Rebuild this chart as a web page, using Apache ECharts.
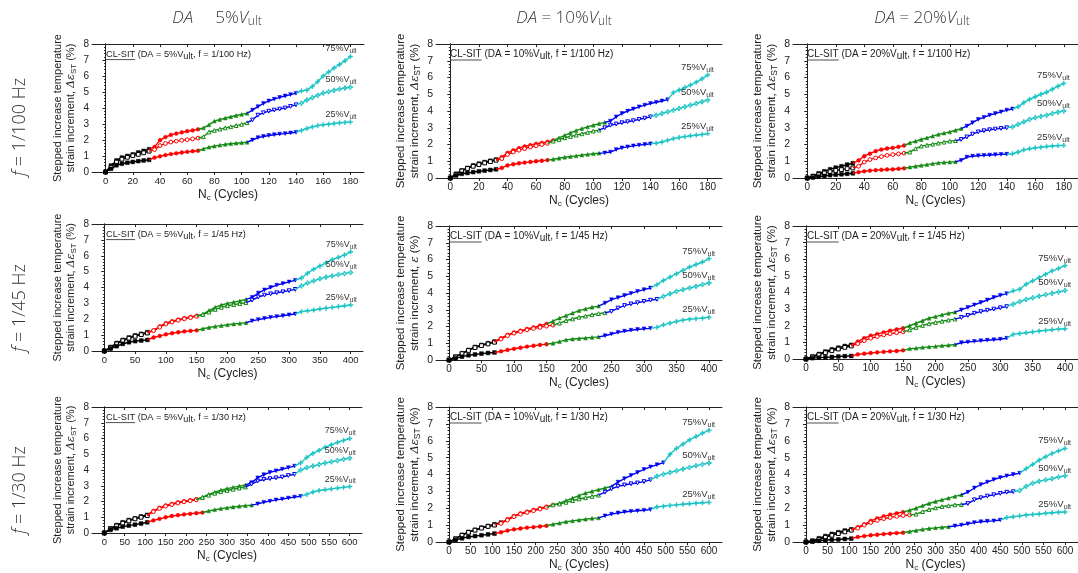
<!DOCTYPE html>
<html><head><meta charset="utf-8">
<script src="https://cdn.jsdelivr.net/npm/echarts@6/dist/echarts.min.js"></script>
<style>html,body{margin:0;padding:0;background:#fff}#c{width:1078px;height:573px}</style>
</head><body><div id="c"></div><script>
// ---------- DATA ----------
const X180 = [0,4,8,12,16,20,24,28,32,36,40,44,48,52,56,60,64,68,72,76,80,84,88,92,96,100,104,108,112,116,120,124,128,132,136,140,144,148,152,156,160,164,168,172,176,180];
const X400 = [0,10,20,30,40,50,60,70,80,90,100,110,120,130,140,150,160,170,180,190,200,210,220,230,240,250,260,270,280,290,300,310,320,330,340,350,360,370,380,390,400];
const X600 = [0,15,30,45,60,75,90,105,120,135,150,165,180,195,210,225,240,255,270,285,300,315,330,345,360,375,390,405,420,435,450,465,480,495,510,525,540,555,570,585,600];
const TICKS_180 = [0,20,40,60,80,100,120,140,160,180];
const TICKS_400 = [0,50,100,150,200,250,300,350,400];
const TICKS_600 = [0,50,100,150,200,250,300,350,400,450,500,550,600];

const DA_LEVELS = ['5%', '10%', '20%'];
const FREQS = ['1/100', '1/45', '1/30'];
const LOAD_LEVELS = ['75%', '50%', '25%'];

// stage start cycles (stage 2..5); default for each frequency
const STAGES_180 = [36,72,108,144];
const STAGES_400 = [80,160,240,320];
const STAGES_600 = [120,240,360,480];

// DA = 5%, f = 1/100 Hz
const P1_75 = [0,0.4,0.72,0.9,1.0,1.1,1.22,1.32,1.42,1.57,1.99,2.18,2.32,2.4,2.48,2.55,2.6,2.67,2.76,2.95,3.18,3.28,3.37,3.45,3.53,3.6,3.67,3.87,4.08,4.28,4.44,4.55,4.66,4.75,4.84,4.92,5.07,5.12,5.35,5.65,6.0,6.25,6.5,6.72,6.95,7.22];
const P1_50 = [0,0.3,0.62,0.8,0.92,1.02,1.1,1.2,1.3,1.4,1.65,1.78,1.87,1.93,1.98,2.02,2.07,2.12,2.2,2.5,2.6,2.68,2.76,2.83,2.9,2.98,3.08,3.25,3.55,3.7,3.8,3.87,3.93,4.0,4.1,4.2,4.3,4.5,4.65,4.8,4.93,5.02,5.1,5.18,5.25,5.3];
const P1_25 = [0,0.2,0.42,0.52,0.58,0.63,0.68,0.72,0.76,0.9,0.98,1.06,1.12,1.17,1.22,1.26,1.3,1.33,1.45,1.55,1.62,1.68,1.73,1.77,1.8,1.83,1.86,2.0,2.15,2.22,2.28,2.33,2.37,2.4,2.44,2.48,2.6,2.72,2.82,2.9,2.95,2.99,3.03,3.07,3.1,3.13];
// DA = 10%, f = 1/100 Hz
const P2_75 = [0,0.25,0.45,0.6,0.75,0.86,0.95,1.03,1.1,1.25,1.5,1.65,1.78,1.88,1.96,2.04,2.1,2.16,2.25,2.4,2.55,2.7,2.83,2.95,3.05,3.15,3.25,3.32,3.4,3.65,3.85,4.0,4.12,4.25,4.35,4.45,4.52,4.6,4.68,5.1,5.25,5.4,5.55,5.72,5.92,6.15];
const P2_75_STAGES = [36,76,112,156];
const P2_50 = [0,0.22,0.42,0.57,0.7,0.8,0.9,0.98,1.06,1.15,1.4,1.55,1.66,1.75,1.85,1.92,2.0,2.07,2.2,2.3,2.4,2.48,2.56,2.64,2.72,2.8,2.86,3.0,3.15,3.22,3.3,3.36,3.42,3.5,3.57,3.65,3.75,3.85,3.95,4.05,4.15,4.25,4.35,4.45,4.55,4.65];
const P2_25 = [0,0.15,0.25,0.3,0.35,0.4,0.44,0.48,0.52,0.6,0.75,0.82,0.88,0.92,0.96,1.0,1.03,1.07,1.12,1.18,1.24,1.28,1.32,1.37,1.41,1.45,1.48,1.5,1.55,1.7,1.8,1.86,1.92,1.96,2.0,2.04,2.08,2.15,2.25,2.35,2.42,2.47,2.52,2.56,2.6,2.65];
// DA = 20%, f = 1/100 Hz
const P3_75 = [0,0.12,0.28,0.4,0.52,0.62,0.7,0.8,0.88,1.05,1.3,1.45,1.6,1.7,1.76,1.8,1.86,1.94,2.1,2.2,2.3,2.4,2.5,2.6,2.68,2.75,2.85,2.95,3.1,3.3,3.5,3.62,3.75,3.85,3.95,4.05,4.12,4.25,4.5,4.7,4.85,5.0,5.12,5.3,5.48,5.65];
const P3_75_STAGES = [36,72,112,148];
const P3_50 = [0,0.1,0.2,0.3,0.38,0.45,0.5,0.56,0.6,0.7,0.95,1.1,1.2,1.28,1.35,1.4,1.44,1.48,1.55,1.75,1.9,1.96,2.02,2.08,2.14,2.2,2.23,2.3,2.45,2.62,2.75,2.82,2.88,2.92,2.96,3.0,3.05,3.2,3.35,3.5,3.6,3.68,3.75,3.85,3.93,4.0];
const P3_25 = [0,0.03,0.08,0.12,0.17,0.2,0.22,0.25,0.28,0.35,0.4,0.44,0.47,0.49,0.51,0.52,0.55,0.58,0.65,0.7,0.75,0.8,0.86,0.9,0.93,0.95,0.97,1.05,1.25,1.3,1.33,1.35,1.37,1.39,1.41,1.42,1.45,1.55,1.68,1.75,1.8,1.84,1.88,1.91,1.93,1.95];
// DA = 5%, f = 1/45 Hz
const P4_75 = [0,0.25,0.5,0.7,0.85,0.98,1.08,1.18,1.3,1.55,1.75,1.88,1.98,2.07,2.15,2.22,2.32,2.55,2.75,2.9,3.0,3.08,3.15,3.25,3.38,3.65,3.85,4.0,4.15,4.25,4.35,4.45,4.6,4.9,5.15,5.35,5.55,5.75,5.9,6.05,6.25];
const P4_50 = [0,0.2,0.45,0.65,0.8,0.93,1.03,1.13,1.28,1.5,1.7,1.82,1.93,2.02,2.1,2.18,2.3,2.45,2.62,2.75,2.85,2.92,2.98,3.05,3.2,3.4,3.52,3.6,3.67,3.73,3.8,3.88,4.1,4.28,4.42,4.55,4.65,4.73,4.81,4.88,4.95];
const P4_25 = [0,0.15,0.3,0.45,0.55,0.62,0.66,0.7,0.85,0.95,1.05,1.12,1.18,1.23,1.27,1.3,1.4,1.48,1.55,1.6,1.65,1.7,1.74,1.78,1.9,1.98,2.05,2.12,2.17,2.22,2.28,2.33,2.48,2.53,2.58,2.65,2.7,2.75,2.8,2.85,2.9];
// DA = 10%, f = 1/45 Hz
const P5_75 = [0,0.2,0.4,0.6,0.78,0.9,1.0,1.1,1.3,1.5,1.65,1.75,1.85,1.95,2.05,2.15,2.32,2.5,2.65,2.8,2.95,3.05,3.15,3.22,3.4,3.6,3.72,3.85,3.98,4.1,4.2,4.3,4.5,4.75,4.95,5.15,5.35,5.55,5.7,5.85,6.05];
const P5_50 = [0,0.18,0.38,0.57,0.74,0.86,0.96,1.06,1.25,1.45,1.6,1.7,1.8,1.88,1.95,2.02,2.08,2.2,2.35,2.45,2.55,2.62,2.7,2.77,2.82,2.9,3.1,3.25,3.35,3.42,3.5,3.57,3.62,3.8,3.95,4.1,4.2,4.3,4.4,4.5,4.6];
const P5_50_STAGES = [80,170,250,330];
const P5_25 = [0,0.1,0.2,0.28,0.33,0.38,0.42,0.45,0.52,0.6,0.67,0.73,0.8,0.85,0.9,0.94,1.0,1.1,1.2,1.25,1.28,1.31,1.35,1.38,1.45,1.55,1.65,1.72,1.78,1.82,1.86,1.89,1.95,2.1,2.2,2.3,2.38,2.43,2.47,2.5,2.55];
// DA = 20%, f = 1/45 Hz
const P6_75 = [0,0.15,0.3,0.45,0.58,0.68,0.78,0.85,1.05,1.25,1.4,1.5,1.6,1.7,1.78,1.85,2.0,2.15,2.3,2.45,2.55,2.65,2.75,2.82,2.95,3.1,3.25,3.4,3.55,3.7,3.83,3.93,4.1,4.2,4.5,4.7,4.9,5.1,5.3,5.45,5.62];
const P6_50 = [0,0.12,0.25,0.38,0.5,0.6,0.7,0.78,0.92,1.1,1.25,1.35,1.45,1.52,1.58,1.63,1.75,1.9,2.02,2.12,2.2,2.27,2.34,2.4,2.5,2.62,2.75,2.85,2.93,3.0,3.08,3.15,3.3,3.45,3.58,3.68,3.78,3.87,3.95,4.03,4.12];
const P6_25 = [0,0.05,0.08,0.1,0.12,0.15,0.17,0.18,0.28,0.32,0.36,0.4,0.43,0.46,0.48,0.52,0.62,0.65,0.7,0.73,0.76,0.8,0.83,0.87,0.98,1.02,1.06,1.1,1.13,1.16,1.19,1.25,1.48,1.53,1.58,1.63,1.68,1.72,1.76,1.8,1.82];
// DA = 5%, f = 1/30 Hz
const P7_75 = [0,0.3,0.5,0.68,0.82,0.93,1.05,1.15,1.4,1.6,1.75,1.85,1.95,2.02,2.08,2.15,2.28,2.45,2.6,2.72,2.82,2.9,2.98,3.05,3.2,3.5,3.7,3.85,3.95,4.05,4.15,4.25,4.45,4.8,5.05,5.25,5.45,5.6,5.75,5.88,6.0];
const P7_50 = [0,0.25,0.45,0.62,0.77,0.9,1.0,1.1,1.35,1.55,1.7,1.8,1.9,1.98,2.04,2.1,2.25,2.4,2.52,2.62,2.7,2.78,2.85,2.92,3.1,3.3,3.4,3.45,3.5,3.55,3.65,3.72,4.0,4.15,4.25,4.35,4.45,4.52,4.6,4.68,4.75];
const P7_25 = [0,0.2,0.3,0.4,0.47,0.53,0.6,0.68,0.8,0.9,1.0,1.08,1.13,1.18,1.22,1.26,1.3,1.4,1.48,1.55,1.6,1.65,1.7,1.74,1.77,1.85,1.95,2.02,2.1,2.15,2.22,2.28,2.33,2.45,2.6,2.7,2.75,2.8,2.85,2.9,2.95];
const P7_25_STAGES = [120,255,375,495];
// DA = 10%, f = 1/30 Hz
const P8_75 = [0,0.2,0.42,0.6,0.72,0.85,0.95,1.05,1.15,1.35,1.55,1.7,1.8,1.9,2.0,2.1,2.2,2.3,2.45,2.6,2.75,2.9,3.0,3.1,3.2,3.3,3.55,3.75,3.95,4.12,4.3,4.45,4.58,4.7,5.2,5.55,5.8,6.05,6.25,6.45,6.62];
const P8_75_STAGES = [135,255,390,510];
const P8_50 = [0,0.18,0.4,0.57,0.7,0.82,0.92,1.0,1.1,1.3,1.5,1.65,1.75,1.85,1.95,2.05,2.2,2.25,2.35,2.45,2.55,2.62,2.7,2.78,2.95,3.15,3.3,3.38,3.45,3.5,3.58,3.68,3.9,4.02,4.12,4.22,4.32,4.42,4.52,4.6,4.68];
const P8_25 = [0,0.12,0.22,0.3,0.35,0.4,0.45,0.5,0.58,0.68,0.75,0.8,0.85,0.88,0.92,0.96,1.05,1.12,1.2,1.25,1.3,1.35,1.4,1.43,1.55,1.65,1.72,1.78,1.82,1.85,1.88,1.92,2.08,2.12,2.17,2.2,2.24,2.27,2.3,2.33,2.35];
// DA = 20%, f = 1/30 Hz
const P9_75 = [0,0.08,0.22,0.35,0.48,0.58,0.68,0.75,0.88,1.05,1.25,1.4,1.52,1.62,1.7,1.77,1.88,2.0,2.15,2.28,2.4,2.5,2.6,2.7,2.8,2.95,3.2,3.4,3.55,3.7,3.82,3.92,4.0,4.08,4.35,4.6,4.85,5.05,5.25,5.4,5.55];
const P9_75_STAGES = [120,240,375,510];
const P9_50 = [0,0.05,0.15,0.28,0.4,0.5,0.6,0.7,0.82,1.0,1.15,1.28,1.38,1.45,1.52,1.57,1.6,1.65,1.8,1.92,2.02,2.1,2.15,2.2,2.22,2.28,2.5,2.62,2.72,2.8,2.88,2.95,2.98,3.05,3.3,3.48,3.6,3.68,3.75,3.85,3.92];
const P9_50_STAGES = [120,255,375,495];
const P9_25 = [0,0.03,0.07,0.1,0.13,0.15,0.18,0.2,0.3,0.35,0.4,0.43,0.47,0.5,0.53,0.55,0.62,0.68,0.75,0.8,0.84,0.87,0.9,0.95,1.0,1.08,1.15,1.2,1.23,1.25,1.3,1.45,1.5,1.55,1.6,1.63,1.66,1.7,1.73,1.76,1.78];
const P9_25_STAGES = [120,240,345,465];

// ---------- PANEL ASSEMBLY ----------
const PANELS = [
  {da:0, f:0, x:X180, ticks:TICKS_180, min:-10, max:190, curves:[[P1_75,STAGES_180],[P1_50,STAGES_180],[P1_25,STAGES_180]]},
  {da:1, f:0, x:X180, ticks:TICKS_180, min:-10, max:190, curves:[[P2_75,P2_75_STAGES],[P2_50,STAGES_180],[P2_25,STAGES_180]]},
  {da:2, f:0, x:X180, ticks:TICKS_180, min:-10, max:190, curves:[[P3_75,P3_75_STAGES],[P3_50,STAGES_180],[P3_25,STAGES_180]]},
  {da:0, f:1, x:X400, ticks:TICKS_400, min:-20, max:420, curves:[[P4_75,STAGES_400],[P4_50,STAGES_400],[P4_25,STAGES_400]]},
  {da:1, f:1, x:X400, ticks:TICKS_400, min:-20, max:420, curves:[[P5_75,STAGES_400],[P5_50,P5_50_STAGES],[P5_25,STAGES_400]], eps:true},
  {da:2, f:1, x:X400, ticks:TICKS_400, min:-20, max:420, curves:[[P6_75,STAGES_400],[P6_50,STAGES_400],[P6_25,STAGES_400]]},
  {da:0, f:2, x:X600, ticks:TICKS_600, min:-30, max:630, curves:[[P7_75,STAGES_600],[P7_50,STAGES_600],[P7_25,P7_25_STAGES]]},
  {da:1, f:2, x:X600, ticks:TICKS_600, min:-30, max:630, curves:[[P8_75,P8_75_STAGES],[P8_50,STAGES_600],[P8_25,STAGES_600]]},
  {da:2, f:2, x:X600, ticks:TICKS_600, min:-30, max:630, curves:[[P9_75,P9_75_STAGES],[P9_50,P9_50_STAGES],[P9_25,P9_25_STAGES]]}
];

// ---------- LAYOUT / STYLE ----------
const GRIDS = [
  {left:92, top:44, width:272, height:128},
  {left:436, top:44, width:286, height:134},
  {left:793, top:44, width:287, height:134},
  {left:92, top:224, width:271, height:127},
  {left:436, top:226, width:286, height:134},
  {left:793, top:226, width:287, height:133},
  {left:92, top:407, width:270, height:126},
  {left:436, top:407, width:286, height:135},
  {left:793, top:407, width:287, height:135}
];
const STAGE_COLORS = ['#000000','#ff0000','#168a16','#0000f0','#1cc4c4'];
const STAGE_SYMBOLS = ['rect','circle','triangle','path://M0,0 L10,0 L5,9 Z','path://M4,0h2v4h4v2h-4v4h-2v-4h-4v-2h4z'];
const FONT = "'Liberation Sans', Arial, sans-serif";
const AX = '#222';

function stageOf(x, b) { let s = 0; for (const v of b) if (x >= v) s++; return s; }

const grid = [], xAxis = [], yAxis = [], series = [], graphic = [];
PANELS.forEach((p, g) => {
  const col = g % 3;
  const small = col === 0;
  const fs = small ? 9.5 : 10;
  grid.push(Object.assign({containLabel:false}, GRIDS[g]));
  const nameFs = small ? 11 : 11.5;
  xAxis.push({
    type:'value', gridIndex:g, min:p.min, max:p.max, position:'bottom',
    splitLine:{show:false},
    axisLine:{show:true, onZero:false, lineStyle:{color:AX, width:1}},
    axisTick:{show:true, length:3, customValues:p.ticks, lineStyle:{color:AX}},
    axisLabel:{customValues:p.ticks, fontSize:fs, color:'#222', fontFamily:FONT, margin:4},
    name:'{n|N}{s|c}{n| (Cycles)}', nameLocation:'middle', nameGap:15,
    nameTextStyle:{rich:{n:{fontSize:12, fontFamily:FONT, color:'#222'}, s:{fontSize:8, fontFamily:FONT, color:'#222', padding:[7,0,0,0]}}}
  });
  xAxis.push({
    type:'value', gridIndex:g, min:p.min, max:p.max, position:'top',
    splitLine:{show:false},
    axisLine:{show:true, onZero:false, lineStyle:{color:AX, width:1}},
    axisTick:{show:true, inside:true, length:3, customValues:p.ticks, lineStyle:{color:AX}},
    axisLabel:{show:false}
  });
  const yname = p.eps
    ? '{n|Stepped increase temperature}\n{n|strain increment, }{m|ε}{n| (%)}'
    : '{n|Stepped increase temperature}\n{n|strain increment, }{m|Δε}{s|ST}{n| (%)}';
  yAxis.push({
    type:'value', gridIndex:g, min:0, max:8, interval:1, position:'left',
    splitLine:{show:false},
    axisLine:{show:true, lineStyle:{color:AX, width:1}},
    axisTick:{show:true, length:2, lineStyle:{color:AX}},
    axisLabel:{fontSize:fs+0.5, color:'#222', fontFamily:FONT, margin:3},
    name:yname, nameLocation:'middle', nameRotate:90, nameGap:14,
    nameTextStyle:{lineHeight:nameFs+2.5, rich:{
      n:{fontSize:nameFs, fontFamily:FONT, color:'#222', lineHeight:nameFs+2.5},
      m:{fontSize:nameFs, fontFamily:"'DejaVu Serif', serif", fontStyle:'italic', color:'#222', lineHeight:nameFs+2.5},
      s:{fontSize:nameFs-3, fontFamily:FONT, color:'#222', padding:[5,0,0,0], lineHeight:nameFs+2.5}}}
  });
  yAxis.push({
    type:'value', gridIndex:g, min:0, max:8, interval:1, position:'right',
    splitLine:{show:false},
    axisLine:{show:true, lineStyle:{color:AX, width:1}},
    axisTick:{show:true, inside:true, length:3, lineStyle:{color:AX}},
    minorTick:{show:true, splitNumber:5, length:1.5, lineStyle:{color:AX}},
    axisLabel:{show:false}
  });
  const xi = g * 2, yi = g * 2;
  p.curves.forEach(([ys, b], ci) => {
    const hollow = ci === 1;
    for (let s = 0; s < 5; s++) {
      const data = [];
      for (let i = 0; i < p.x.length; i++) {
        if (stageOf(p.x[i], b) !== s) continue;
        if (i > 0 && stageOf(p.x[i-1], b) !== s && data.length === 0) {
          data.push({value:[p.x[i-1], ys[i-1]], symbol:'none'});
        }
        const item = {value:[p.x[i], ys[i]]};
        if (i === p.x.length - 1) {
          item.label = {show:true, position:'top', align:'right', distance:0, offset:[6,1],
            formatter:'{n|' + LOAD_LEVELS[ci] + 'V}{s|ult}',
            rich:{n:{fontSize:small?9:9.5, fontFamily:FONT, color:'#333'},
                  s:{fontSize:small?6.5:7, fontFamily:FONT, color:'#333', padding:[5,0,0,0]}}};
        }
        data.push(item);
      }
      if (!data.length) continue;
      const c = STAGE_COLORS[s];
      series.push({
        type:'line', xAxisIndex:xi, yAxisIndex:yi, data, animation:false,
        symbol:STAGE_SYMBOLS[s], symbolSize: s === 4 ? 4.5 : 3.8, showAllSymbol:true,
        lineStyle:{color:c, width:1.4},
        itemStyle: hollow ? {color:'#fff', borderColor:c, borderWidth:1} : {color:c, borderColor:c, borderWidth:0.5},
        emphasis:{disabled:true}, z: 2 + s, clip:false
      });
    }
  });
  // in-panel annotation
  const gl = GRIDS[g];
  const afs = small ? 9.2 : 10;
  const ax = gl.left + 14, ay = gl.top + 10;
  graphic.push({type:'text', x:ax, y:ay, style:{
    text:'{u|CL-SIT}{n| (DA = ' + DA_LEVELS[p.da] + 'V}{s|ult}{n|, f = ' + FREQS[p.f] + ' Hz)}',
    verticalAlign:'middle',
    rich:{u:{fontSize:afs, fontFamily:FONT, fill:'#222'}, n:{fontSize:afs, fontFamily:FONT, fill:'#222'},
          s:{fontSize:afs, fontFamily:FONT, fill:'#222', padding:[4,0,0,0]}}}});
  const ctx = document.createElement('canvas').getContext('2d');
  ctx.font = afs + 'px ' + FONT;
  const uw = ctx.measureText('CL-SIT').width;
  graphic.push({type:'line', shape:{x1:ax, y1:ay+afs/2+1, x2:ax+uw, y2:ay+afs/2+1}, style:{stroke:'#222', lineWidth:0.8}});
});

// column titles and row labels
const TITLE_FONT = "'Open Sans', 'Noto Sans', sans-serif";
const COL_X = [217, 564, 922];
const COL_SEP = ['     ', ' = ', ' = '];
DA_LEVELS.forEach((d, i) => {
  graphic.push({type:'text', x:COL_X[i], y:18, style:{
    text:'{i|DA}{n|' + COL_SEP[i] + d + '}{i|V}{s|ult}', align:'center', verticalAlign:'middle',
    rich:{i:{fontSize:17, fontStyle:'italic', fontFamily:TITLE_FONT, fill:'#333', fontWeight:300},
          n:{fontSize:17, fontFamily:TITLE_FONT, fill:'#333', fontWeight:300},
          s:{fontSize:12, fontFamily:TITLE_FONT, fill:'#333', fontWeight:300, padding:[8,0,0,0]}}}});
});
const ROW_Y = [127, 308, 490];
FREQS.forEach((f, i) => {
  graphic.push({type:'text', x:20, y:ROW_Y[i], rotation:Math.PI/2, style:{
    text:'{i|f}{n| = ' + f + ' Hz}', align:'center', verticalAlign:'middle',
    rich:{i:{fontSize:18, fontStyle:'italic', fontFamily:TITLE_FONT, fill:'#333', fontWeight:300},
          n:{fontSize:18, fontFamily:TITLE_FONT, fill:'#333', fontWeight:300}}}});
});

const chart = echarts.init(document.getElementById('c'), null, {renderer:'canvas'});
chart.setOption({animation:false, backgroundColor:'#fff', grid, xAxis, yAxis, series, graphic});
</script></body></html>
